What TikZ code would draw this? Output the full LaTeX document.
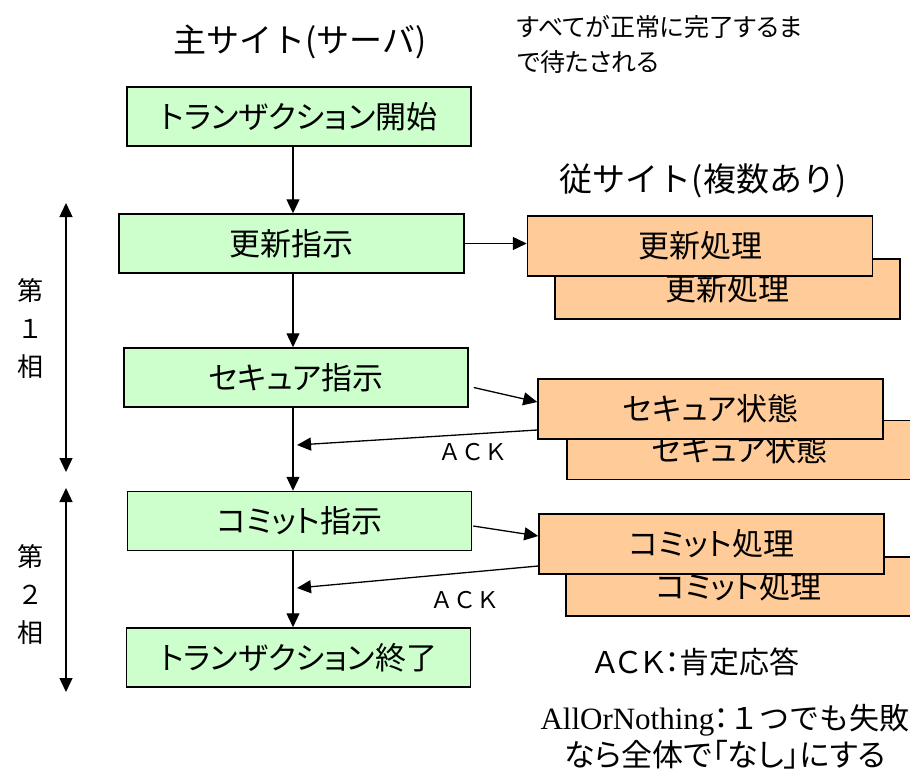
\documentclass[tikz,border=0pt]{standalone}
\usepackage{fontspec}
\setmainfont{Noto Sans CJK JP}
\newfontfamily\jpp[RawFeature=+palt]{Noto Sans CJK JP}
\newfontfamily\timesf{Liberation Serif}
\usetikzlibrary{arrows.meta}
\definecolor{gfill}{HTML}{CCFFCC}
\definecolor{ofill}{HTML}{FFCC99}
\begin{document}
\begin{tikzpicture}[x=1pt,y=-1pt,
 gbox/.style={draw, fill=gfill, line width=1.5pt, minimum width=344pt, minimum height=59pt, inner sep=0pt, font=\jpp\fontsize{31}{36}\selectfont},
 obox/.style={draw, fill=ofill, line width=1.5pt, minimum width=345pt, minimum height=59pt, inner sep=0pt, font=\jpp\fontsize{31}{36}\selectfont},
 arr/.style={line width=1.3pt, -{Triangle[length=14pt,width=13pt]}},
 dbl/.style={line width=1.3pt, {Triangle[length=14pt,width=13pt]}-{Triangle[length=14pt,width=13pt]}},
 head/.style={inner sep=0pt, font=\fontsize{33}{38}\selectfont},
 note/.style={inner sep=0pt, font=\jpp\fontsize{25}{35}\selectfont},
 ack/.style={inner sep=0pt, font=\fontsize{23}{27}\selectfont},
 phase/.style={inner sep=0pt, align=center, font=\fontsize{26}{38}\selectfont},
 legend/.style={inner sep=0pt, font=\fontsize{30}{34}\selectfont}
]
\fill[white] (0,0) rectangle (910,771);
\useasboundingbox (0,0) rectangle (910,771);

% headings
\node[head] (h1) at (300,42) {主サイト(サーバ)};
\node[head] (h2) at (703,181) {従サイト(複数あり)};
\node[note, anchor=west, align=left] (n1) at (517,44) {すべてが正常に完了するま\\で待たされる};

% main site boxes
\node[gbox] (g1) at (299,116.5) {トランザクション開始};
\node[gbox, minimum width=345pt] (g2) at (291.5,243.5) {更新指示};
\node[gbox] (g3) at (296,377.5) {セキュア指示};
\node[gbox] (g4) at (299.5,521) {コミット指示};
\node[gbox] (g5) at (298.5,657.5) {トランザクション終了};

% slave site boxes
\node[obox, minimum height=60pt] (o1b) at (727.5,289) {更新処理};
\node[obox, minimum height=60pt] (o1) at (700,246) {更新処理};
\node[obox] (o2b) at (739.5,450) {セキュア状態};
\node[obox, minimum height=60pt] (o2) at (710.5,409) {セキュア状態};
\node[obox] (o3b) at (738.5,586.5) {コミット処理};
\node[obox, minimum height=60pt] (o3) at (711.5,544) {コミット処理};

% main flow
\coordinate (mx) at (293,0);
\draw[arr] (g1.south -| mx) -- (g2.north -| mx);
\draw[arr] (g2.south -| mx) -- (g3.north -| mx);
\draw[arr] (g3.south -| mx) -- (g4.north -| mx);
\draw[arr] (g4.south -| mx) -- (g5.north -| mx);

% to slaves
\draw[arr] (g2.east) -- (o1.west |- g2.east);
\draw[arr] ([xshift=5pt,yshift=-10pt]g3.east) -- ([yshift=7pt]o2.west);
\draw[arr] ([xshift=1pt,yshift=-5pt]g4.east) -- ([yshift=8pt]o3.west);

% ACKs
\coordinate (a1) at (297,445);
\coordinate (a2) at (297,588);
\draw[arr] ([yshift=-21pt]o2.west) -- (a1);
\draw[arr] ([yshift=-22pt]o3.west) -- (a2);
\node[ack] (k1) at (473,452) {ＡＣＫ};
\node[ack] (k2) at (465,600) {ＡＣＫ};

% phases
\coordinate (p1t) at (66,203);
\coordinate (p1b) at (66,472);
\coordinate (p2t) at (66,488);
\coordinate (p2b) at (66,692);
\draw[dbl] (p1t) -- (p1b);
\draw[dbl] (p2t) -- (p2b);
\node[phase] (ph1) at (30,329) {第\\１\\相};
\node[phase] (ph2) at (30,595) {第\\２\\相};

% legend
\node[legend, font=\jpp\fontsize{30}{34}\selectfont] (l1) at (697,662) {ＡＣＫ：肯定応答};
\node[legend] (l2) at (725,720) {{\timesf\fontsize{31}{34}\selectfont AllOrNothing}{\jpp ：}１つでも失敗};
\node[legend, font=\jpp\fontsize{31}{34}\selectfont] (l3) at (725,755) {なら全体で「なし」にする};
\end{tikzpicture}
\end{document}
